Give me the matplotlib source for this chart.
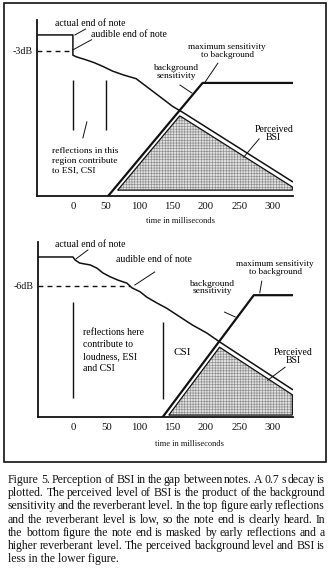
import numpy as np
import matplotlib
matplotlib.use("Agg")
import matplotlib.pyplot as plt
from matplotlib.patches import Rectangle

plt.rcParams['font.family'] = ['Liberation Serif', 'DejaVu Serif']
plt.rcParams['hatch.linewidth'] = 0.45

W, H = 331, 571
INK = '#111111'

# time axis labels (ms)
tick_ms = [0, 50, 100, 150, 200, 250, 300]

# upper panel: 0.7 s decay, note end heard at once (-3 dB)
top_decay_ms = [0, 5, 18, 32, 45, 60, 76, 95, 112, 130, 150, 165, 330]
top_decay_db = [-3.8, -4.1, -4.6, -5.2, -5.9, -6.8, -7.5, -8.2, -9.8, -11.5, -13.4, -14.5, -27.5]
top_sens_ms = [53, 195, 330]
top_sens_db = [-30.2, -9.0, -9.0]
top_audible_db = -3
top_floor_db = -29.1

# lower panel: note end masked by early reflections (-6 dB)
bot_decay_ms = [0, 3, 10, 26, 36, 45, 56, 68, 81, 89, 101, 111, 126, 141, 161, 180, 201, 221, 330]
bot_decay_db = [0, -0.6, -1.25, -1.65, -2.3, -3.3, -4.1, -4.8, -5.4, -6.4, -7.2, -8.3, -9.5,
                -10.6, -12.4, -14.1, -15.7, -17.6, -27.4]
bot_sens_ms = [135, 272, 330]
bot_sens_db = [-33.1, -7.9, -7.9]
bot_audible_db = -6
bot_audible_ms = 86
bot_floor_db = -32.7

caption_lines = [
    "Figure 5. Perception of BSI in the gap between notes. A 0.7 s decay is",
    "plotted. The perceived level of BSI is the product of the background",
    "sensitivity and the reverberant level. In the top figure early reflections",
    "and the reverberant level is low, so the note end is clearly heard. In",
    "the bottom figure the note end is masked by early reflections and a",
    "higher reverberant level. The perceived background level and BSI is",
    "less in the lower figure.",
]


def px_axes(left, top, right, bottom):
    return fig.add_axes([left / W, 1 - bottom / H, (right - left) / W, (bottom - top) / H])


def setup(ax, xlim, ylim, ylab_db, ylab, label_x, label_y):
    ax.set_xlim(*xlim)
    ax.set_ylim(*ylim)
    for s in ('top', 'right'):
        ax.spines[s].set_visible(False)
    for s in ('left', 'bottom'):
        ax.spines[s].set_linewidth(1.3)
        ax.spines[s].set_color(INK)
    ax.set_xticks(tick_ms)
    ax.set_xticklabels([str(t) for t in tick_ms], fontsize=7.8)
    ax.set_yticks([ylab_db])
    ax.set_yticklabels([ylab], fontsize=7.2)
    ax.tick_params(length=0, pad=3, colors=INK)
    ax.tick_params(axis='x', pad=4)
    ax.text(label_x, label_y, 'time in milliseconds', fontsize=6, ha='center',
            va='center', transform=ax.transAxes, color=INK)
    ax.patch.set_alpha(0)


def bsi_region(ax, dec_ms, dec_db, sens_ms, sens_db, floor_db, shift_ms, drop_db):
    # perceived BSI: the lower of decay and sensitivity, drawn inside a double outline
    xs = np.union1d(np.linspace(sens_ms[0], dec_ms[-1], 400), dec_ms)
    xs = xs[xs <= dec_ms[-1]]
    inner = np.minimum(np.interp(xs, dec_ms, dec_db) - drop_db,
                       np.interp(xs - shift_ms, sens_ms, sens_db, left=-99))
    keep = inner >= floor_db
    xs, inner = xs[keep], inner[keep]
    x0 = xs[0] - (inner[0] - floor_db) / max(np.gradient(inner, xs)[0], 1e-6)
    px = np.concatenate([[x0], xs, [xs[-1], x0]])
    py = np.concatenate([[floor_db], inner, [floor_db, floor_db]])
    ax.fill(px, py, facecolor='#e2e2e2', edgecolor='#8c8c8c', lw=0,
            hatch='++++++', zorder=1)
    ax.fill(px, py, facecolor='none', edgecolor=INK, lw=0.9, zorder=2)


def lead(ax, x0, y0, x1, y1):
    ax.plot([x0, x1], [y0, y1], color=INK, lw=0.7, clip_on=False)


fig = plt.figure(figsize=(W / 100, H / 100), dpi=100)
fig.patch.set_facecolor('white')

# --- upper panel
ax1 = px_axes(37, 20, 293, 196)
setup(ax1, (-54, 331), (-30.2, 2.8), top_audible_db, '-3dB',
      (180 - 37) / (293 - 37), -(221 - 196) / (196 - 20))
ax1.plot([-54] + [0] + top_decay_ms, [0, 0] + top_decay_db, color=INK, lw=1.1, zorder=3)
ax1.plot([-54, 0], [top_audible_db] * 2, color=INK, lw=1.0, dashes=(3.5, 3), zorder=3)
ax1.plot(top_sens_ms, top_sens_db, color=INK, lw=1.6, zorder=3)
bsi_region(ax1, top_decay_ms, top_decay_db, top_sens_ms, top_sens_db, top_floor_db, 7, 1.0)
ax1.vlines([0, 50], -17.8, -8.4, color=INK, lw=1.0)

ax1.text(-27, 2.2, 'actual end of note', fontsize=7, va='center', clip_on=False)
lead(ax1, 3, 0, 19, 1.1)
ax1.text(27, 0, 'audible end of note', fontsize=7, va='center')
lead(ax1, 0, -2.8, 28, -0.9)
ax1.text(232, -3.0, 'maximum sensitivity\nto background', fontsize=6.6, ha='center',
         va='center', linespacing=1.0)
lead(ax1, 218, -5.3, 199, -8.8)
ax1.text(155, -7.0, 'background\nsensitivity', fontsize=6.8, ha='center', va='center',
         linespacing=0.95)
lead(ax1, 161, -9.4, 179, -10.9)
ax1.text(-32, -23.6, 'reflections in this\nregion contribute\nto ESI, CSI', fontsize=6.8,
         va='center', linespacing=1.3)
lead(ax1, 21, -16.3, 15, -19.3)
ax1.text(302, -18.5, 'Perceived\nBSI', fontsize=7, ha='center', va='center',
         linespacing=0.95)
lead(ax1, 280, -19.5, 257, -22.9)

# --- lower panel
ax2 = px_axes(38, 242, 293, 417)
setup(ax2, (-52.6, 331), (-33.1, 3.1), bot_audible_db, '-6dB',
      (189 - 38) / (293 - 38), -(444 - 417) / (417 - 242))
ax2.plot([-52.6] + bot_decay_ms, [0] + bot_decay_db, color=INK, lw=1.1, zorder=3)
ax2.plot([-52.6, bot_audible_ms], [bot_audible_db] * 2, color=INK, lw=1.0, dashes=(3.5, 3),
         zorder=3)
ax2.plot(bot_sens_ms, bot_sens_db, color=INK, lw=1.6, zorder=3)
bsi_region(ax2, bot_decay_ms, bot_decay_db, bot_sens_ms, bot_sens_db, bot_floor_db, 7, 1.1)
ax2.vlines([0], -29.2, -9.3, color=INK, lw=1.0)
ax2.vlines([135], -29.4, -13.5, color=INK, lw=1.0)

ax2.text(-27, 2.5, 'actual end of note', fontsize=7, va='center', clip_on=False)
lead(ax2, 4.5, -0.4, 22.5, 1.45)
ax2.text(65, -0.6, 'audible end of note', fontsize=7, va='center')
lead(ax2, 93, -5.8, 123, -3.1)
ax2.text(304, -2.2, 'maximum sensitivity\nto background', fontsize=6.6, ha='center',
         va='center', linespacing=1.0, clip_on=False)
lead(ax2, 284, -5.0, 281, -7.4)
ax2.text(209, -6.3, 'background\nsensitivity', fontsize=6.8, ha='center', va='center',
         linespacing=0.95)
lead(ax2, 228, -11.4, 244, -12.4)
ax2.text(15, -19.3, 'reflections here\ncontribute to\nloudness, ESI\nand CSI', fontsize=7,
         va='center', linespacing=1.45)
ax2.text(164, -19.7, 'CSI', fontsize=8, ha='center', va='center')
ax2.text(331, -20.6, 'Perceived\nBSI', fontsize=7, ha='center', va='center',
         linespacing=0.95, clip_on=False)
lead(ax2, 319, -22.8, 293, -25.5)

# frame round both panels
fig.add_artist(Rectangle((3.5 / W, 1 - 462 / H), (326 - 3.5) / W, (462 - 2.5) / H,
                         transform=fig.transFigure, fill=False, edgecolor=INK, lw=1.2))

# justified caption
fig.canvas.draw()
renderer = fig.canvas.get_renderer()
cap_left, cap_right = 8, 325
cap_size = 8.5
for i, line in enumerate(caption_lines):
    y = 1 - (480 + i * 13.2) / H
    if i == len(caption_lines) - 1:
        fig.text(cap_left / W, y, line, fontsize=cap_size, va='center', color=INK)
        continue
    words = line.split()
    texts = [fig.text(0, y, w, fontsize=cap_size, va='center', color=INK) for w in words]
    widths = [t.get_window_extent(renderer).width for t in texts]
    gap = (cap_right - cap_left - sum(widths)) / (len(words) - 1)
    x = cap_left
    for t, w in zip(texts, widths):
        t.set_x(x / W)
        x += w + gap

fig.savefig('out.png', dpi=100, facecolor='white')
